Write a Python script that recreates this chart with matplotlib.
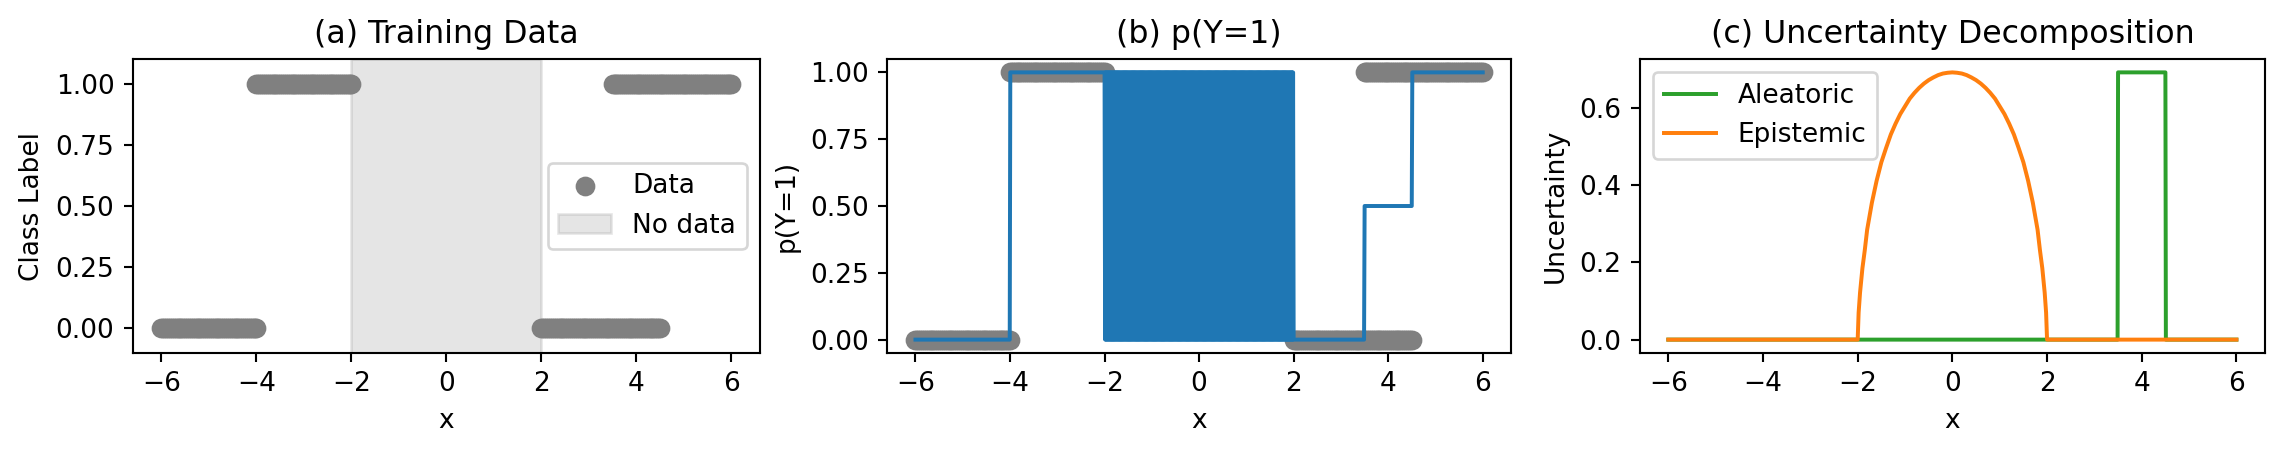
import numpy as np
import matplotlib
matplotlib.use("Agg")
import matplotlib.pyplot as plt

DPI = 190

# training data: contiguous runs of samples (x_start, x_end, label)
data_runs = [(-6.0, -4.0, 0.0), (-4.0, -2.0, 1.0), (2.0, 4.5, 0.0), (3.5, 6.0, 1.0)]
points_per_unit = 25
no_data_span = (-2.0, 2.0)

# p(Y=1): step levels between edges; None = flips between 1 and 0 every grid point
p_edges = [-6.0, -4.0, -2.0, 2.0, 3.5, 4.5, 6.0]
p_levels = [0.0, 1.0, None, 0.0, 0.5, 1.0]
p_flip_levels = [1.0, 0.0]

# uncertainty curves
epi_x = [-6.0, -2.0, -1.98, -1.95, -1.9, -1.85, -1.8, -1.7, -1.6, -1.5, -1.4, -1.3, -1.2,
         -1.1, -1.0, -0.9, -0.8, -0.7, -0.6, -0.5, -0.4, -0.3, -0.2, -0.1, 0.0,
         0.1, 0.2, 0.3, 0.4, 0.5, 0.6, 0.7, 0.8, 0.9, 1.0, 1.1, 1.2, 1.3, 1.4, 1.5,
         1.6, 1.7, 1.8, 1.85, 1.9, 1.95, 1.98, 2.0, 6.0]
epi_y = [0.0, 0.0, 0.070, 0.122, 0.185, 0.232, 0.285, 0.355, 0.412, 0.460, 0.497, 0.532, 0.560,
         0.585, 0.605, 0.625, 0.640, 0.653, 0.664, 0.673, 0.680, 0.686, 0.690, 0.692, 0.693,
         0.692, 0.690, 0.686, 0.680, 0.673, 0.664, 0.653, 0.640, 0.625, 0.605, 0.585, 0.560,
         0.532, 0.497, 0.460, 0.412, 0.355, 0.285, 0.232, 0.185, 0.122, 0.070, 0.0, 0.0]
ale_x = [-6.0, 3.49, 3.5, 4.5, 4.51, 6.0]
ale_y = [0.0, 0.0, 0.693, 0.693, 0.0, 0.0]

xs, ys = [], []
for x0, x1, lab in data_runs:
    n = int(round((x1 - x0) * points_per_unit)) + 1
    xs.append(np.linspace(x0, x1, n))
    ys.append(np.full(n, lab))
data_x = np.concatenate(xs)
data_y = np.concatenate(ys)

grid = np.linspace(-6, 6, 1000)
p_vals = np.zeros_like(grid)
for i, lev in enumerate(p_levels):
    if i < len(p_levels) - 1:
        m = (grid >= p_edges[i]) & (grid < p_edges[i + 1])
    else:
        m = grid >= p_edges[i]
    if lev is None:
        idx = np.where(m)[0]
        p_vals[idx] = [p_flip_levels[k % 2] for k in range(len(idx))]
    else:
        p_vals[m] = lev

fig = plt.figure(figsize=(2284 / DPI, 455 / DPI), dpi=DPI)
bottom, height = 0.2242, 0.6461
ax1 = fig.add_axes([0.0582, bottom, 0.2745, height])
ax2 = fig.add_axes([0.3884, bottom, 0.2732, height])
ax3 = fig.add_axes([0.7180, bottom, 0.2736, height])

ax1.scatter(data_x, data_y, color="gray", s=42, label="Data")
ax1.axvspan(*no_data_span, color="gray", alpha=0.2, label="No data")
ax1.set_ylim(-0.1, 1.1)
ax1.set_xlabel("x")
ax1.set_ylabel("Class Label")
ax1.set_title("(a) Training Data")
ax1.legend(loc="center right")

ax2.scatter(data_x, data_y, color="gray", s=42)
ax2.plot(grid, p_vals, color="tab:blue")
ax2.set_xlabel("x")
ax2.set_ylabel("p(Y=1)")
ax2.set_title("(b) p(Y=1)")

ax3.plot(ale_x, ale_y, color="tab:green", label="Aleatoric")
ax3.plot(epi_x, epi_y, color="tab:orange", label="Epistemic")
ax3.set_xlabel("x")
ax3.set_ylabel("Uncertainty")
ax3.set_title("(c) Uncertainty Decomposition")
ax3.legend(loc="upper left")

for ax in (ax1, ax2, ax3):
    ax.set_xticks([-6, -4, -2, 0, 2, 4, 6])
for ax in (ax1, ax2):
    ax.set_yticks([0.0, 0.25, 0.5, 0.75, 1.0])
ax3.set_yticks([0.0, 0.2, 0.4, 0.6])

fig.savefig("out.png", dpi=DPI)
